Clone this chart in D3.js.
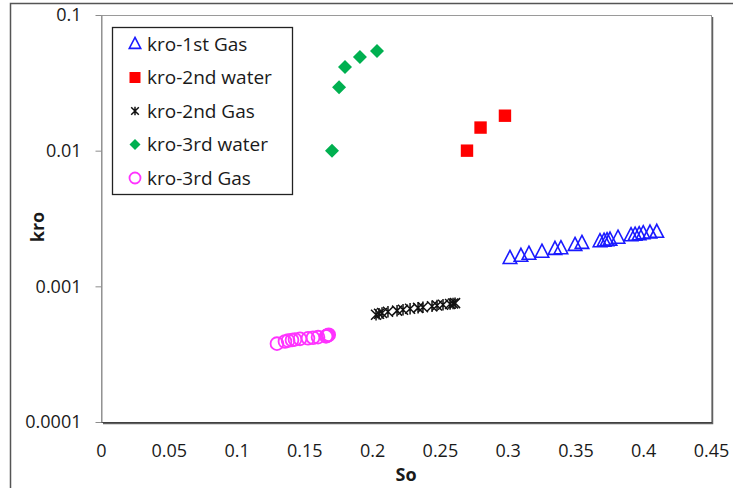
<!DOCTYPE html>
<html>
<head>
<meta charset="utf-8">
<script src="https://cdn.jsdelivr.net/npm/d3@7"></script>
<style>
  html, body { margin: 0; padding: 0; background: #fff; }
  svg { display: block; }
  text { font-family: "Open Sans", "Liberation Sans", sans-serif; fill: #1a1a1a; }
</style>
</head>
<body>
<svg id="chart" width="733" height="488"></svg>
<script>
// Oil relative permeability (kro) against oil saturation (So)
const gas1So  = [0.3017, 0.3098, 0.3157, 0.3253, 0.3349, 0.3393, 0.3497, 0.3548, 0.3681, 0.3711, 0.3733, 0.3755, 0.3814, 0.3910, 0.3940, 0.3970, 0.4000, 0.4050, 0.4100];
const gas1Kro = [0.00161, 0.00167, 0.00173, 0.00179, 0.00188, 0.00190, 0.00201, 0.00208, 0.00214, 0.00216, 0.00218, 0.00220, 0.00227, 0.00237, 0.00239, 0.00241, 0.00245, 0.00248, 0.00251];

const water2So  = [0.270, 0.280, 0.298];
const water2Kro = [0.0100, 0.0148, 0.0181];

const gas2So  = [0.2029, 0.2051, 0.2073, 0.2117, 0.2184, 0.2228, 0.2280, 0.2339, 0.2375, 0.2442, 0.2479, 0.2523, 0.2575, 0.2597, 0.2612];
const gas2Kro = [0.000618, 0.000628, 0.000636, 0.000650, 0.000662, 0.000672, 0.000684, 0.000694, 0.000702, 0.000714, 0.000722, 0.000732, 0.000742, 0.000748, 0.000752];

const water3So  = [0.1704, 0.1756, 0.1800, 0.1910, 0.2036];
const water3Kro = [0.0100, 0.0294, 0.0413, 0.0490, 0.0543];

const gas3So  = [0.1298, 0.1357, 0.1380, 0.1409, 0.1431, 0.1468, 0.1527, 0.1564, 0.1601, 0.1660, 0.1667, 0.1675, 0.1680];
const gas3Kro = [0.000378, 0.000392, 0.000398, 0.000402, 0.000406, 0.000410, 0.000414, 0.000418, 0.000422, 0.000428, 0.000432, 0.000436, 0.000440];

const xTicks = [0, 0.05, 0.1, 0.15, 0.2, 0.25, 0.3, 0.35, 0.4, 0.45];
const yTicks = [0.0001, 0.001, 0.01, 0.1];
const xTickLabels = ["0", "0.05", "0.1", "0.15", "0.2", "0.25", "0.3", "0.35", "0.4", "0.45"];
const yTickLabels = ["0.0001", "0.001", "0.01", "0.1"];

const seriesNames = ["kro-1st Gas", "kro-2nd water", "kro-2nd Gas", "kro-3rd water", "kro-3rd Gas"];

const svg = d3.select("#chart");

// outer chart frame
svg.append("rect")
  .attr("x", 10.5).attr("y", 3.5)
  .attr("width", 740).attr("height", 500)
  .attr("fill", "#fff").attr("stroke", "#555").attr("stroke-width", 1.5);

const plot = { left: 101, top: 15, right: 711, bottom: 422 };

const x = d3.scaleLinear().domain([0, 0.45]).range([plot.left, plot.right]);
const y = d3.scaleLog().domain([0.0001, 0.1]).range([plot.bottom, plot.top]);

// plot area with a soft drop shadow on the right and bottom
svg.append("path")
  .attr("d", `M${plot.right + 1.5},${plot.top + 2} V${plot.bottom + 1.5} H${plot.left + 2}`)
  .attr("fill", "none").attr("stroke", "#606060").attr("stroke-width", 1.5);
svg.append("rect")
  .attr("x", plot.left + 0.5).attr("y", plot.top + 0.5)
  .attr("width", plot.right - plot.left).attr("height", plot.bottom - plot.top)
  .attr("fill", "#fff").attr("stroke", "#9a9a9a").attr("stroke-width", 1);
svg.append("line")
  .attr("x1", plot.left).attr("x2", plot.right + 1)
  .attr("y1", plot.bottom + 0.5).attr("y2", plot.bottom + 0.5)
  .attr("stroke", "#404040").attr("stroke-width", 1.2);

// y axis (log)
const yAxis = d3.axisLeft(y)
  .tickValues(yTicks)
  .tickFormat((d, i) => yTickLabels[i])
  .tickSizeInner(6).tickSizeOuter(0).tickPadding(14);
const gy = svg.append("g").attr("transform", `translate(${plot.left + 0.5},0)`).call(yAxis);
gy.select(".domain").attr("stroke", "#8c8c8c");
gy.selectAll(".tick line").attr("stroke", "#8c8c8c");
gy.selectAll(".tick text").attr("font-size", 18).attr("fill", "#1a1a1a")
  .attr("font-family", "'Open Sans', sans-serif");

// x axis
const xAxis = d3.axisBottom(x)
  .tickValues(xTicks)
  .tickFormat((d, i) => xTickLabels[i])
  .tickSize(0).tickPadding(22);
const gx = svg.append("g").attr("transform", `translate(0,${plot.bottom})`).call(xAxis);
gx.select(".domain").remove();
gx.selectAll(".tick text").attr("font-size", 18).attr("fill", "#1a1a1a")
  .attr("font-family", "'Open Sans', sans-serif");

// axis titles
svg.append("text")
  .attr("x", (plot.left + plot.right) / 2).attr("y", 481)
  .attr("text-anchor", "middle").attr("font-size", 18).attr("font-weight", "bold")
  .text("So");
svg.append("text")
  .attr("transform", "translate(44,227) rotate(-90)")
  .attr("text-anchor", "middle").attr("font-size", 18).attr("font-weight", "bold")
  .text("kro");

// marker shapes
const triPath = s => `M0,${-s * 0.6} L${s * 0.52},${s * 0.4} L${-s * 0.52},${s * 0.4} Z`;
const starPath = s => `M${-s},${-s} L${s},${s} M${-s},${s} L${s},${-s} M0,${-s * 1.15} L0,${s * 1.15}`;
const diamondPath = s => `M0,${-s} L${s},0 L0,${s} L${-s},0 Z`;

const markers = [
  { name: seriesNames[0], so: gas1So, kro: gas1Kro,
    draw: (g, big) => g.append("path").attr("d", triPath(big ? 13 : 11)).attr("fill", "none").attr("stroke", "#1a1aff").attr("stroke-width", 1.6) },
  { name: seriesNames[1], so: water2So, kro: water2Kro,
    draw: (g, big) => { const h = big ? 6.2 : 5.5; g.append("rect").attr("x", -h).attr("y", -h).attr("width", 2 * h).attr("height", 2 * h).attr("fill", "#ff0000"); } },
  { name: seriesNames[2], so: gas2So, kro: gas2Kro,
    draw: (g, big) => g.append("path").attr("d", starPath(big ? 5 : 3.8)).attr("fill", "none").attr("stroke", "#111").attr("stroke-width", 1.5) },
  { name: seriesNames[3], so: water3So, kro: water3Kro,
    draw: (g, big) => g.append("path").attr("d", diamondPath(big ? 7 : 5.5)).attr("fill", "#00b050") },
  { name: seriesNames[4], so: gas3So, kro: gas3Kro,
    draw: (g, big) => g.append("circle").attr("r", big ? 6.4 : 5.5).attr("fill", "none").attr("stroke", "#ff33ff").attr("stroke-width", 1.8) }
];

// data points
markers.forEach(m => {
  const g = svg.append("g").attr("class", "series");
  m.so.forEach((v, i) => {
    const pt = g.append("g").attr("transform", `translate(${x(v)},${y(m.kro[i])})`);
    m.draw(pt, true);
  });
});

// legend
const legend = svg.append("g");
legend.append("rect")
  .attr("x", 112.5).attr("y", 27.5).attr("width", 180).attr("height", 167)
  .attr("fill", "#fff").attr("stroke", "#222").attr("stroke-width", 1.3);
markers.forEach((m, i) => {
  const cy = 44 + i * 33.5;
  const mk = legend.append("g").attr("transform", `translate(135,${cy})`);
  m.draw(mk, false);
  legend.append("text")
    .attr("x", 147).attr("y", cy).attr("dy", "0.35em")
    .attr("font-size", 19).text(m.name);
});
</script>
</body>
</html>
